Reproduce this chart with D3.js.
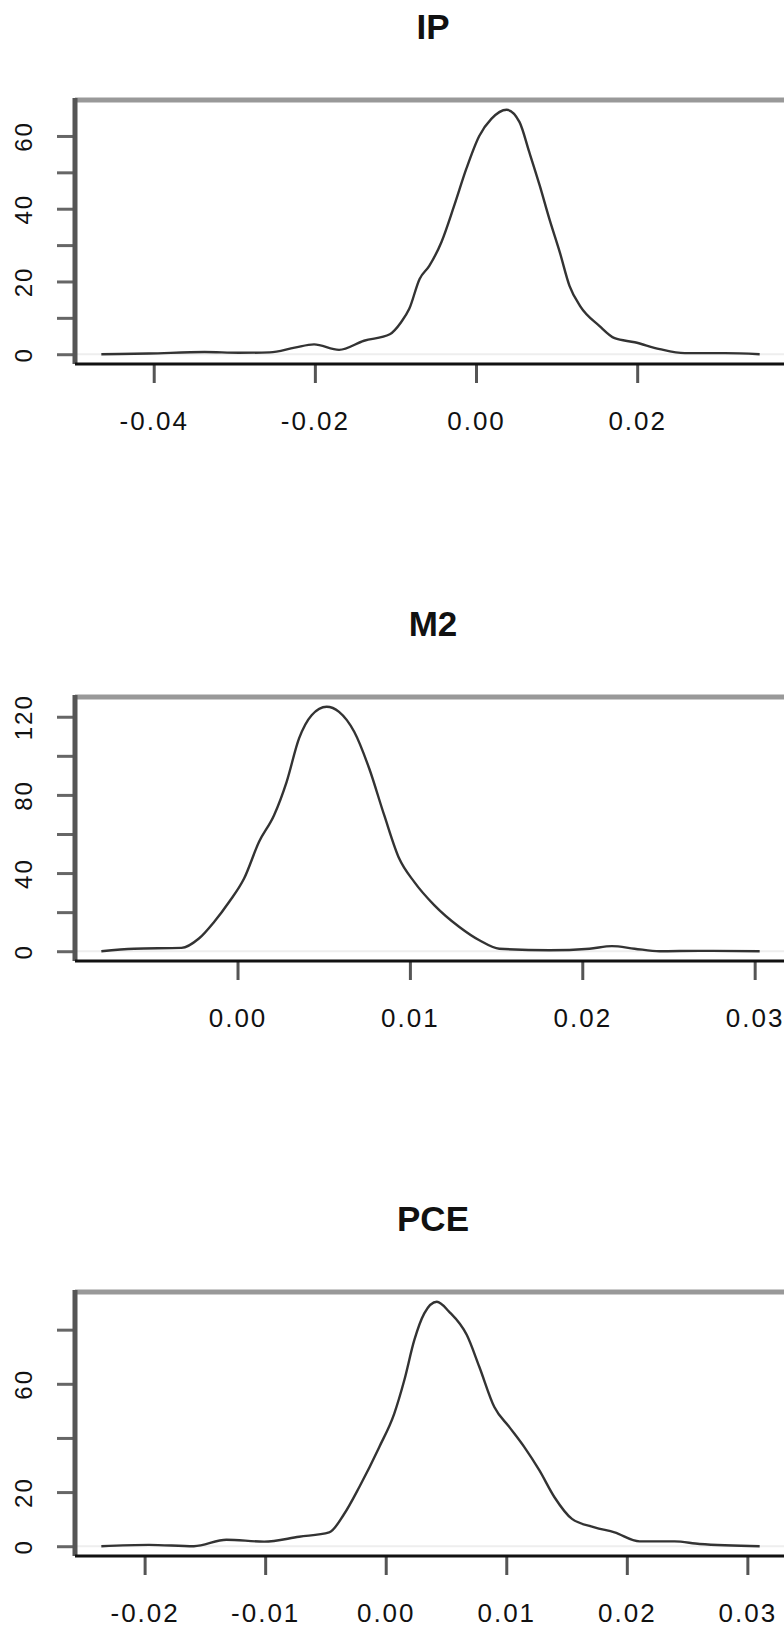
<!DOCTYPE html>
<html>
<head>
<meta charset="utf-8">
<script src="https://cdn.jsdelivr.net/npm/d3@7"></script>
<style>
  body { margin: 0; background: #fff; }
  svg { display: block; }
</style>
</head>
<body>
<svg></svg>
<script>
// density estimates
const titles = ["IP", "M2", "PCE"]

const ipX = [-0.0465, -0.0406, -0.0337, -0.0294, -0.0256, -0.0225, -0.0201, -0.0170, -0.0139, -0.0107,
  -0.0093, -0.0083, -0.0070, -0.0058, -0.0043, -0.0027, -0.0012, 0.0004, 0.0019, 0.0038,
  0.0054, 0.0066, 0.0079, 0.0091, 0.0104, 0.0116, 0.0129, 0.0153, 0.0172, 0.0197,
  0.0228, 0.0259, 0.0309, 0.0352]
const ipY = [0, 0.2, 0.6, 0.4, 0.5, 1.8, 2.7, 1.2, 3.7, 5.5,
  8.8, 12.4, 20.7, 24.3, 30.8, 40.9, 51, 60, 64.7, 67.2,
  63.8, 55.6, 46.4, 37.2, 28, 18.8, 13.3, 7.8, 4.4, 3.3,
  1.4, 0.3, 0.3, 0]

const m2X = [-0.0079, -0.0060, -0.00325, -0.00224, -0.00136, -0.00049, 0.00038, 0.00125, 0.00212, 0.00285,
  0.00357, 0.0043, 0.00517, 0.00589, 0.00677, 0.00764, 0.00851, 0.00938, 0.01025, 0.01141,
  0.01287, 0.01403, 0.01519, 0.01809, 0.02042, 0.02172, 0.02303, 0.02448, 0.02681, 0.03029]
const m2Y = [0, 1.3, 1.7, 6.5, 15, 25.2, 37.2, 56, 69.6, 86.7,
  108.9, 120.8, 125.1, 122.5, 112.3, 93.5, 69.6, 47.4, 35.5, 23.6,
  12.4, 5.6, 1.3, 0.5, 1.3, 2.6, 1.3, 0, 0.2, 0]

const pceX = [-0.02359, -0.01964, -0.01591, -0.01321, -0.01009, -0.00718, -0.00469, -0.00345, -0.0022, -0.00054,
  0.00071, 0.00154, 0.00237, 0.0032, 0.00424, 0.00527, 0.00673, 0.00777, 0.00901, 0.01026,
  0.0115, 0.01275, 0.014, 0.01545, 0.01732, 0.01898, 0.02106, 0.02396, 0.02604, 0.03102]
const pceY = [0, 0.5, 0, 2.4, 1.7, 3.5, 5.1, 11.9, 21.8, 36.6,
  49, 61.3, 76.1, 86, 90.3, 86.6, 78, 66.2, 51.4, 44,
  36.6, 28, 18.1, 10.1, 7, 5.1, 1.8, 1.8, 0.8, 0]

const ipXTicks = [-0.04, -0.02, 0.00, 0.02]
const m2XTicks = [0.00, 0.01, 0.02, 0.03]
const pceXTicks = [-0.02, -0.01, 0.00, 0.01, 0.02, 0.03]

const ipYTicks = [0, 10, 20, 30, 40, 50, 60]
const ipYLabels = [0, 20, 40, 60]
const m2YTicks = [0, 20, 40, 60, 80, 100, 120]
const m2YLabels = [0, 40, 80, 120]
const pceYTicks = [0, 20, 40, 60, 80]
const pceYLabels = [0, 20, 60]

const svgWidth = 784
const svgHeight = 1627
const plotLeft = 75
const plotRight = 786
const boxTops = [100, 697, 1292]
const boxHeight = 264

const svg = d3.select("svg")
  .attr("width", svgWidth)
  .attr("height", svgHeight)
  .style("font-family", "'Liberation Sans', Arial, sans-serif")

const panels = [
  { xs: ipX, ys: ipY, xTicks: ipXTicks, yTicks: ipYTicks, yLabels: ipYLabels },
  { xs: m2X, ys: m2Y, xTicks: m2XTicks, yTicks: m2YTicks, yLabels: m2YLabels },
  { xs: pceX, ys: pceY, xTicks: pceXTicks, yTicks: pceYTicks, yLabels: pceYLabels }
]

// plain hyphen minus like R output
const fmt = (d) => d.toFixed(2)

panels.forEach((p, i) => {
  const top = boxTops[i]
  const bottom = top + boxHeight

  // R style limits: data range padded by 4%
  const xExt = d3.extent(p.xs)
  const xPad = (xExt[1] - xExt[0]) * 0.04
  const yExt = d3.extent(p.ys)
  const yPad = (yExt[1] - yExt[0]) * 0.04

  const xScale = d3.scaleLinear()
    .domain([xExt[0] - xPad, xExt[1] + xPad])
    .range([plotLeft, plotRight])
  const yScale = d3.scaleLinear()
    .domain([yExt[0] - yPad, yExt[1] + yPad])
    .range([bottom, top])

  const g = svg.append("g")

  g.append("text")
    .text(titles[i])
    .attr("x", 433)
    .attr("y", top - 61)
    .attr("text-anchor", "middle")
    .attr("font-size", 35)
    .attr("font-weight", "bold")
    .attr("fill", "#111")

  // zero line
  g.append("line")
    .attr("x1", plotLeft).attr("x2", plotRight)
    .attr("y1", yScale(0)).attr("y2", yScale(0))
    .attr("stroke", "#eee")
    .attr("stroke-width", 2)

  // x axis
  const xAxis = g.append("g")
    .attr("transform", `translate(0,${bottom})`)
    .call(d3.axisBottom(xScale).tickValues(p.xTicks).tickSize(19).tickSizeOuter(0).tickFormat(fmt))
  xAxis.select(".domain").remove()
  xAxis.selectAll(".tick line").attr("stroke", "#555").attr("stroke-width", 3)
  xAxis.selectAll(".tick text")
    .attr("y", 66)
    .attr("dy", 0)
    .attr("font-size", 26)
    .attr("letter-spacing", 2)
    .attr("fill", "#111")
    .attr("font-family", "'Liberation Sans', Arial, sans-serif")

  // y axis
  const yAxis = g.append("g")
    .attr("transform", `translate(${plotLeft},0)`)
    .call(d3.axisLeft(yScale).tickValues(p.yTicks).tickSize(18).tickSizeOuter(0)
      .tickFormat((d) => p.yLabels.includes(d) ? d : ""))
  yAxis.select(".domain").remove()
  yAxis.selectAll(".tick line").attr("stroke", "#666").attr("stroke-width", 3)
  yAxis.selectAll(".tick text")
    .attr("x", 0)
    .attr("y", 0)
    .attr("dy", 0)
    .attr("transform", "translate(-43,0) rotate(-90)")
    .attr("text-anchor", "middle")
    .attr("font-size", 24)
    .attr("letter-spacing", 2)
    .attr("fill", "#111")
    .attr("font-family", "'Liberation Sans', Arial, sans-serif")

  // box: top, left, bottom
  g.append("line")
    .attr("x1", plotLeft).attr("x2", svgWidth)
    .attr("y1", top).attr("y2", top)
    .attr("stroke", "#999")
    .attr("stroke-width", 5)
  g.append("line")
    .attr("x1", plotLeft).attr("x2", plotLeft)
    .attr("y1", top - 2).attr("y2", bottom)
    .attr("stroke", "#555")
    .attr("stroke-width", 5)
  g.append("line")
    .attr("x1", plotLeft).attr("x2", svgWidth)
    .attr("y1", bottom).attr("y2", bottom)
    .attr("stroke", "#111")
    .attr("stroke-width", 3)

  const line = d3.line()
    .x((d) => xScale(d[0]))
    .y((d) => yScale(d[1]))
    .curve(d3.curveMonotoneX)

  g.append("path")
    .datum(d3.zip(p.xs, p.ys))
    .attr("d", line)
    .attr("fill", "none")
    .attr("stroke", "#333")
    .attr("stroke-width", 2.4)
})
</script>
</body>
</html>
